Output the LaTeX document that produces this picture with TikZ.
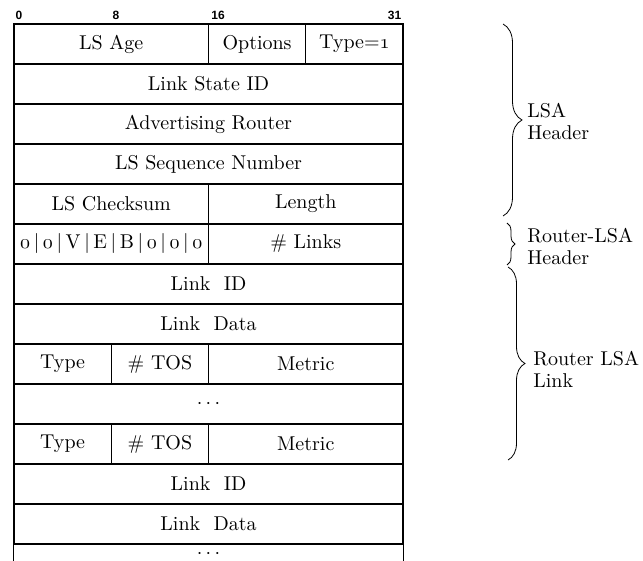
\documentclass[tikz,border=0pt]{standalone}
\usepackage{fontspec}
\newfontfamily\bitfont{Liberation Sans}
\usetikzlibrary{decorations.pathreplacing}
\newcommand{\os}[1]{$\mathnormal{#1}$}
\newcommand{\flagsep}{\hspace{1.8pt}|\hspace{1.8pt}}

\begin{document}
\begin{tikzpicture}[x=0.5pt,y=0.5pt]
\tikzstyle{every node}+=[inner sep=0pt]
\tikzstyle{field}=[draw=black,line width=0.6pt,minimum height=20pt,font=\fontsize{10}{11}\selectfont]
\tikzstyle{bitno}=[font=\bitfont\bfseries\fontsize{6}{7}\selectfont]
\tikzstyle{lbl}=[anchor=west,align=left,font=\fontsize{10}{11}\selectfont]
\tikzstyle{brc}=[decorate,line width=0.4pt]
\useasboundingbox (0,0) rectangle (643,-561);
% bit numbers
\node[bitno] (b0) at (19,-15.5) {0};
\node[bitno] (b8) at (116,-15.5) {8};
\node[bitno] (b16) at (218,-15.5) {16};
\node[bitno] (b31) at (394.5,-15.5) {31};
% LSA header
\node[field,minimum width=97.25pt] (age) at (111.25,-44) {LS Age};
\node[field,minimum width=48.625pt] (opts) at (257.1,-44) {Options};
\node[field,minimum width=48.625pt] (type) at (354.4,-44) {Type=\os{1}};
\node[field,minimum width=194.5pt] (lsid) at (208.5,-84) {Link State ID};
\node[field,minimum width=194.5pt] (adv) at (208.5,-124) {Advertising Router};
\node[field,minimum width=194.5pt] (seq) at (208.5,-164) {LS Sequence Number};
\node[field,minimum width=97.25pt] (cksum) at (111.25,-204) {LS Checksum};
\node[field,minimum width=97.25pt] (len) at (305.75,-204) {Length};
% router-LSA header
\node[field,minimum width=97.25pt] (flags) at (111.25,-244) {\os{0}\flagsep\os{0}\flagsep V\flagsep E\flagsep B\flagsep\os{0}\flagsep\os{0}\flagsep\os{0}};
\node[field,minimum width=97.25pt] (links) at (305.75,-244) {\# Links};
% first link
\node[field,minimum width=194.5pt] (lid1) at (208.5,-284) {Link\ \ ID};
\node[field,minimum width=194.5pt] (ldata1) at (208.5,-324) {Link\ \ Data};
\node[field,minimum width=48.625pt] (ltype1) at (62.6,-364) {Type};
\node[field,minimum width=48.625pt] (tos1) at (159.9,-364) {\# TOS};
\node[field,minimum width=97.25pt] (metric1) at (305.75,-364) {Metric};
\node[field,minimum width=194.5pt] (dots1) at (208.5,-404) {$\cdots$};
\node[field,minimum width=48.625pt] (ltype2) at (62.6,-444) {Type};
\node[field,minimum width=48.625pt] (tos2) at (159.9,-444) {\# TOS};
\node[field,minimum width=97.25pt] (metric2) at (305.75,-444) {Metric};
% next link
\node[field,minimum width=194.5pt] (lid2) at (208.5,-484) {Link\ \ ID};
\node[field,minimum width=194.5pt] (ldata2) at (208.5,-524) {Link\ \ Data};
\draw [black,line width=0.6pt] (ldata2.south west) -- ++(0,-17);
\draw [black,line width=0.6pt] (ldata2.south east) -- ++(0,-17);
\node[font=\fontsize{10}{11}\selectfont] (dots2) at (208.5,-554) {$\cdots$};
% braces
\draw [brc,decoration={brace,amplitude=9.5pt}] (503,-24) -- (503,-216);
\node[lbl] (lsahdr) at (527,-121) {LSA\\Header};
\draw [brc,decoration={brace,amplitude=4pt}] (507,-223) -- (507,-265);
\node[lbl] (rtrhdr) at (527,-246) {Router-LSA\\Header};
\draw [brc,decoration={brace,amplitude=8.5pt}] (508,-267) -- (508,-460);
\node[lbl] (rtrlink) at (533,-369) {Router LSA\\Link};
\end{tikzpicture}
\end{document}
